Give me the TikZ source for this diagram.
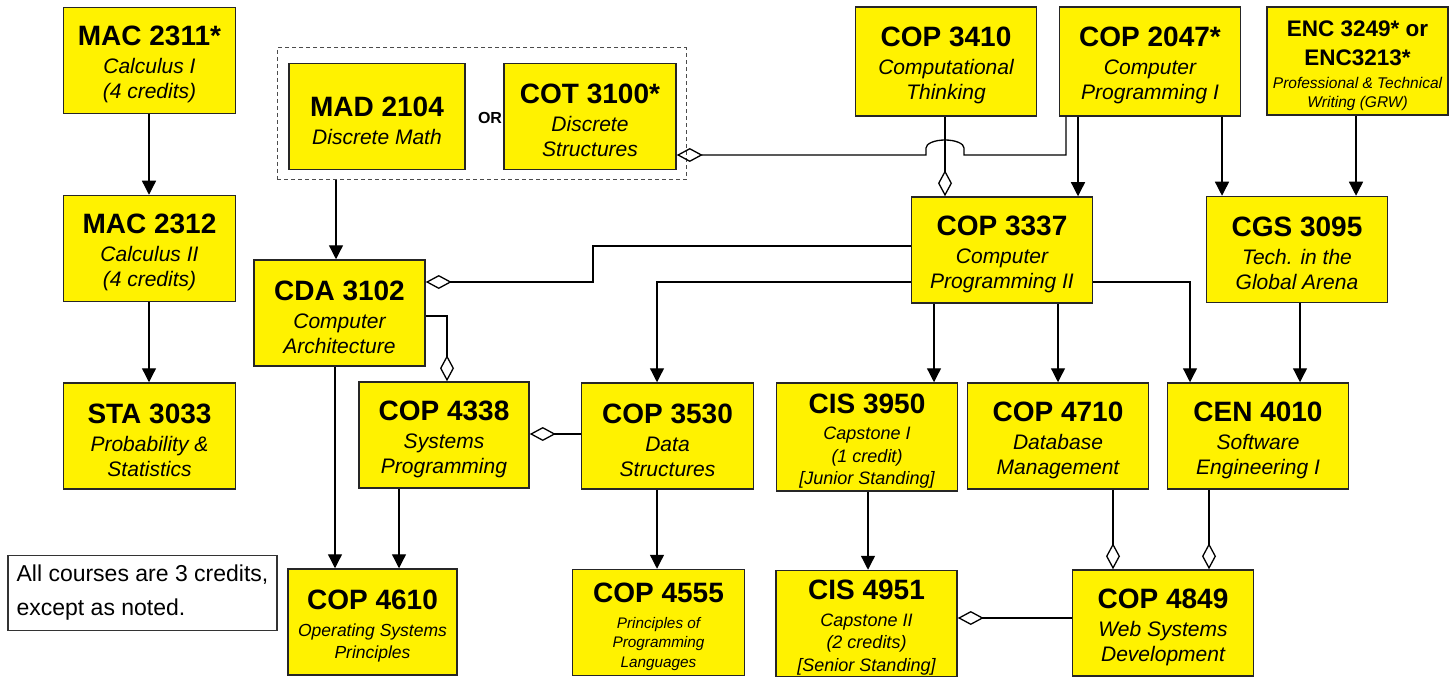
\documentclass[tikz,border=0pt]{standalone}
\usepackage{fontspec}
\setmainfont{Liberation Sans}
\usetikzlibrary{arrows.meta}

\newcommand{\kodas}[2][3pt]{{\fontsize{28}{30}\selectfont\bfseries\upshape\rule{0pt}{28pt}#2}\\[#1]}

\begin{document}
\begin{tikzpicture}[x=1pt, y=-1pt,
    kursas/.style={draw=black!85, line width=1.5pt, fill=yellow, align=center, inner sep=0pt,
        minimum width=172pt, minimum height=106pt, font=\fontsize{21}{25}\selectfont\itshape},
    platus/.style={kursas, minimum width=181pt},
    rodykle/.style={line width=1.3pt, -{Triangle[length=14pt, width=14pt]}},
    rombas/.style={line width=1.3pt, -{Diamond[open, length=26pt, width=14pt]}}]
    \useasboundingbox (0,0) rectangle (1455,679);

    % Kursų blokai
    \node[kursas] (mac2311) at (149.5,60.5) {\kodas{MAC 2311*}Calculus I\\(4 credits)};
    \node[kursas] (mac2312) at (149.5,248.5) {\kodas{MAC 2312}Calculus II\\(4 credits)};
    \node[kursas] (sta3033) at (149.5,436) {\kodas{STA 3033}Probability \&\\Statistics};

    \node[draw=black!70, line width=1pt, dash pattern=on 4pt off 3pt,
        minimum width=409pt, minimum height=132pt] (grupe) at (481.5,114) {};
    \node[kursas, minimum width=176pt] (mad2104) at (377,116.5) {\kodas{MAD 2104}Discrete Math};
    \node[font=\fontsize{16}{18}\selectfont\bfseries] (arba) at (490,118) {OR};
    \node[kursas] (cot3100) at (590,116.5) {\kodas{COT 3100*}Discrete\\Structures};

    \node[platus, minimum height=109pt] (cop3410) at (946,61.5) {\kodas{COP 3410}Computational\\Thinking};
    \node[platus, minimum height=109pt] (cop2047) at (1150,61.5) {\kodas{COP 2047*}Computer\\Programming I};
    \node[platus, minimum height=108pt, font=\fontsize{15.5}{19}\selectfont\itshape] (enc) at (1357.5,61)
        {{\fontsize{22.5}{28}\selectfont\bfseries\upshape\rule{0pt}{25pt}ENC 3249* or}\\[10pt]%
        {\fontsize{22.5}{28}\selectfont\bfseries\upshape ENC3213*}\\[4pt]Professional \& Technical\\Writing (GRW)};

    \node[platus] (cop3337) at (1002,250) {\kodas{COP 3337}Computer\\Programming II};
    \node[platus] (cgs3095) at (1297,249.5) {\kodas{CGS 3095}Tech. in the\\Global Arena};
    \node[kursas, minimum width=171pt] (cda3102) at (339.5,313) {\kodas{CDA 3102}Computer\\Architecture};

    \node[kursas, minimum width=170pt] (cop4338) at (444,435) {\kodas{COP 4338}Systems\\Programming};
    \node[kursas] (cop3530) at (667.5,436) {\kodas{COP 3530}Data\\Structures};
    \node[platus, minimum height=108pt, font=\fontsize{18}{22.5}\selectfont\itshape] (cis3950) at (867,437)
        {\kodas[4pt]{CIS 3950}Capstone I\\(1 credit)\\{[}Junior Standing{]}};
    \node[platus] (cop4710) at (1058,436) {\kodas{COP 4710}Database\\Management};
    \node[platus] (cen4010) at (1258,436) {\kodas{CEN 4010}Software\\Engineering I};

    \node[draw=black!80, line width=1.2pt, fill=white, minimum width=269pt, minimum height=75pt,
        align=left, inner sep=0pt, font=\fontsize{23}{34}\selectfont] (pastaba) at (142.5,593)
        {All courses are 3 credits,\\except as noted.};
    \node[kursas, minimum width=169pt, font=\fontsize{17.5}{22}\selectfont\itshape] (cop4610) at (372.5,622)
        {\kodas[5pt]{COP 4610}Operating Systems\\Principles};
    \node[kursas, font=\fontsize{15.3}{19.5}\selectfont\itshape] (cop4555) at (658.5,622.5)
        {\kodas[6pt]{COP 4555}Principles of\\Programming\\Languages};
    \node[platus, font=\fontsize{18}{22.5}\selectfont\itshape] (cis4951) at (866.5,623.5)
        {\kodas[4pt]{CIS 4951}Capstone II\\(2 credits)\\{[}Senior Standing{]}};
    \node[platus] (cop4849) at (1163,623) {\kodas{COP 4849}Web Systems\\Development};

    % Rodyklės žemyn
    \foreach \a/\b/\x in {mac2311/mac2312/149, mac2312/sta3033/149, grupe/cda3102/336,
        cop2047/cop3337/1078, cop2047/cgs3095/1222, enc/cgs3095/1356,
        cop3337/cis3950/934, cop3337/cop4710/1058, cgs3095/cen4010/1300,
        cda3102/cop4610/335, cop4338/cop4610/399, cop3530/cop4555/657, cis3950/cis4951/868}
        \draw[rodykle] (\a.south -| \x,0) -- (\b.north -| \x,0);
    \draw[rodykle] (cop3337.west |- 0,282) -| (cop3530.north -| 657,0);
    \draw[rodykle] (cop3337.east |- 0,282) -| (cen4010.north -| 1190,0);

    % Jungtys su rombais
    \foreach \a/\b/\x in {cop3410/cop3337/945, cop4710/cop4849/1113, cen4010/cop4849/1209}
        \draw[rombas] (\a.south -| \x,0) -- (\b.north -| \x,0);
    \draw[rombas] (cop2047.south -| 1066,0) |- (964,155) -- ++(0,-7)
        arc[start angle=0, end angle=-180, x radius=19, y radius=8] -- ++(0,7)
        -- (cot3100.east |- 0,155);
    \draw[rombas] (cop3337.west |- 0,246) -| (593,282) -- (cda3102.east |- 0,282);
    \draw[rombas] (cda3102.east |- 0,316) -| (cop4338.north -| 447,0);
    \draw[rombas] (cop3530.west |- 0,434) -- (cop4338.east |- 0,434);
    \draw[rombas] (cop4849.west |- 0,618) -- (cis4951.east |- 0,618);
\end{tikzpicture}
\end{document}
